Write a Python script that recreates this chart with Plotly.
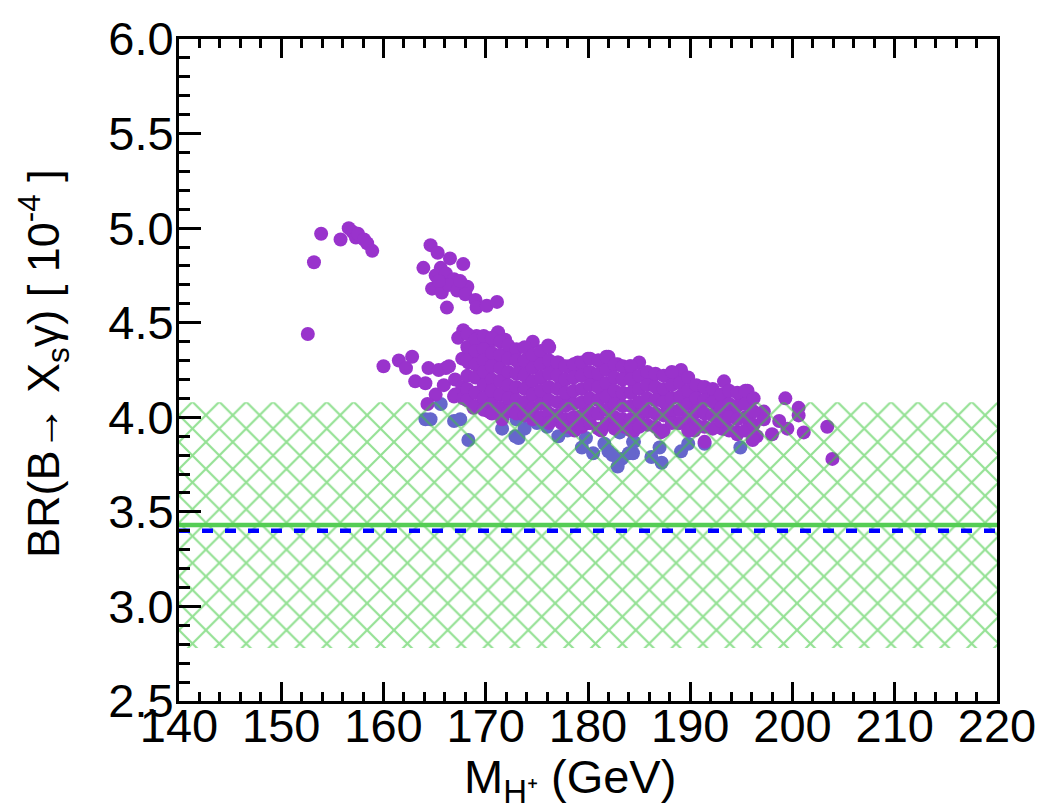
import plotly.graph_objects as go

# Charged Higgs mass scan: BR(B -> X_s gamma) in units of 1e-4 versus M_H+ (GeV)

# Isolated points at low mass
low_mass_points = [
    (152.6, 4.44), (153.2, 4.82), (153.9, 4.97), (155.8, 4.94), (156.6, 5.00),
    (157.0, 4.98), (157.3, 4.95), (157.5, 4.97), (158.1, 4.94), (158.4, 4.92),
    (158.9, 4.88),
]

# Upper cluster around 165-171 GeV
upper_cluster = [
    (164.6, 4.91), (165.3, 4.87), (163.9, 4.79), (166.5, 4.84), (167.8, 4.81),
    (165.6, 4.79), (165.1, 4.75), (166.1, 4.76), (166.9, 4.73), (164.75, 4.68),
    (165.7, 4.66), (166.4, 4.70), (167.2, 4.67), (168.2, 4.69), (168.0, 4.65),
    (169.0, 4.62), (169.1, 4.58), (170.1, 4.59), (171.1, 4.61), (166.2, 4.58),
    (167.5, 4.72), (165.4, 4.72),
]

# Sparse points on the left flank of the main band
left_flank = [
    (160.0, 4.27), (161.5, 4.30), (162.2, 4.26), (162.8, 4.32), (163.1, 4.19),
    (164.1, 4.18), (164.4, 4.26), (165.1, 4.12), (164.3, 4.07), (166.1, 4.26),
    (165.9, 4.17), (166.9, 4.11), (165.4, 4.25), (166.4, 4.27), (167.0, 4.20),
    (167.7, 4.16), (167.0, 4.12), (167.8, 4.10), (168.8, 4.05), (169.9, 4.10),
    (170.9, 4.12), (170.3, 4.03), (171.6, 3.99), (172.4, 4.05),
]

# Upper and right edge of the main band
band_edge = [
    (167.8, 4.46), (167.3, 4.42), (169.1, 4.43), (171.2, 4.45), (171.9, 4.41),
    (168.3, 4.37), (167.7, 4.31), (168.3, 4.29), (169.6, 4.32), (170.6, 4.33),
    (172.5, 4.35), (169.0, 4.35), (170.3, 4.39), (169.6, 4.40), (174.6, 4.40),
    (176.1, 4.38), (177.1, 4.29), (178.2, 4.27), (180.0, 4.31), (181.0, 4.30),
    (182.0, 4.32), (182.9, 4.28), (184.1, 4.27), (179.0, 4.29), (185.0, 4.29),
    (189.1, 4.25), (187.9, 4.22), (193.3, 4.19), (195.6, 4.14), (191.0, 4.16),
    (199.3, 4.10), (200.6, 4.05), (200.6, 4.01), (197.2, 4.03), (197.2, 3.99),
    (198.7, 3.98), (199.5, 3.94), (201.1, 3.92), (203.4, 3.95), (203.9, 3.78),
    (198.0, 3.91), (196.5, 3.90), (194.6, 3.91), (193.1, 3.94),
]

# Lower edge of the main band
band_floor = [
    (172.9, 4.05), (174.2, 4.04), (175.5, 3.99), (177.4, 3.97), (178.7, 3.93),
    (180.0, 3.97), (181.3, 3.93), (183.6, 3.95), (184.5, 3.93), (187.1, 3.92),
    (188.8, 3.97), (190.4, 3.93), (191.4, 3.87), (193.3, 3.94), (194.6, 3.92),
    (196.1, 3.88),
]

# Core of the main band: mass -> BR values
band_core = [
    (168.2, [4.44, 4.37, 4.30, 4.22, 4.15, 4.09]),
    (169.0, [4.41, 4.35, 4.28, 4.21, 4.13, 4.06]),
    (169.8, [4.43, 4.36, 4.30, 4.24, 4.17, 4.10, 4.04]),
    (170.6, [4.42, 4.34, 4.27, 4.20, 4.14, 4.07, 4.02]),
    (171.4, [4.40, 4.33, 4.26, 4.19, 4.12, 4.05]),
    (172.2, [4.38, 4.31, 4.24, 4.17, 4.10, 4.03]),
    (173.0, [4.36, 4.30, 4.23, 4.16, 4.09, 4.02]),
    (173.8, [4.37, 4.30, 4.22, 4.15, 4.08, 4.01]),
    (174.6, [4.33, 4.26, 4.19, 4.12, 4.05, 3.99]),
    (175.4, [4.35, 4.28, 4.21, 4.14, 4.07, 4.00]),
    (176.2, [4.37, 4.30, 4.23, 4.16, 4.09, 4.02, 3.97]),
    (177.0, [4.29, 4.22, 4.15, 4.08, 4.01]),
    (177.8, [4.27, 4.20, 4.13, 4.06, 3.99, 3.95]),
    (178.6, [4.28, 4.21, 4.14, 4.07, 4.00, 3.94]),
    (179.4, [4.29, 4.22, 4.15, 4.08, 4.01, 3.95]),
    (180.2, [4.31, 4.24, 4.17, 4.10, 4.03, 3.97]),
    (181.0, [4.30, 4.23, 4.16, 4.09, 4.02, 3.94]),
    (181.8, [4.32, 4.25, 4.18, 4.11, 4.04, 3.97]),
    (182.6, [4.28, 4.21, 4.14, 4.07, 4.00, 3.94]),
    (183.4, [4.27, 4.20, 4.13, 4.06, 3.99]),
    (184.2, [4.27, 4.20, 4.13, 4.06, 3.99, 3.93]),
    (185.0, [4.22, 4.15, 4.08, 4.01, 3.95]),
    (185.8, [4.24, 4.17, 4.10, 4.03, 3.96]),
    (186.6, [4.23, 4.16, 4.09, 4.02, 3.95]),
    (187.4, [4.22, 4.15, 4.08, 4.01, 3.93]),
    (188.2, [4.24, 4.17, 4.10, 4.03, 3.97]),
    (189.0, [4.18, 4.11, 4.04, 3.97]),
    (189.8, [4.21, 4.14, 4.07, 4.00, 3.93]),
    (190.6, [4.17, 4.10, 4.03, 3.96]),
    (191.4, [4.16, 4.09, 4.02, 3.95]),
    (192.2, [4.15, 4.08, 4.01, 3.94]),
    (193.0, [4.12, 4.05, 3.98]),
    (193.8, [4.14, 4.07, 4.00, 3.93]),
    (194.6, [4.13, 4.06, 3.99]),
    (195.4, [4.14, 4.07, 4.00, 3.93]),
    (196.2, [4.10, 4.03, 3.96]),
]

# Points between the core rows
band_fill = [
    (168.6, 4.33), (169.4, 4.25), (170.2, 4.20), (171.0, 4.30), (171.8, 4.22),
    (172.6, 4.13), (173.4, 4.27), (174.2, 4.18), (175.0, 4.31), (175.8, 4.11),
    (176.6, 4.26), (177.4, 4.18), (178.2, 4.10), (179.0, 4.25), (179.8, 4.05),
    (180.6, 4.20), (181.4, 4.13), (182.2, 4.28), (183.0, 4.10), (183.8, 4.23),
    (184.6, 4.16), (185.4, 4.05), (186.2, 4.20), (187.0, 4.12), (187.8, 4.05),
    (188.6, 4.20), (189.4, 4.09), (190.2, 4.13), (191.0, 4.06), (191.8, 4.12),
    (192.6, 4.03), (193.4, 4.09), (194.2, 4.03), (195.0, 4.10), (195.8, 3.97),
]

# Points falling below the main band (second colour)
low_br_points = [
    (164.1, 3.99), (164.6, 3.99), (165.6, 4.07), (166.9, 3.98), (167.5, 3.99),
    (168.3, 3.88), (171.6, 3.94), (172.9, 3.90), (173.0, 3.99), (173.2, 3.89),
    (173.8, 3.94), (175.0, 3.97), (177.1, 3.90), (178.0, 3.93), (179.4, 3.84),
    (179.8, 3.89), (180.5, 3.81), (181.6, 3.86), (182.0, 3.82), (183.1, 3.92),
    (183.3, 3.78), (182.9, 3.74), (184.4, 3.87), (184.4, 3.81), (182.4, 3.80),
    (184.0, 3.81), (184.5, 3.87), (186.2, 3.79), (187.0, 3.84), (187.2, 3.76),
    (189.1, 3.82), (189.8, 3.86), (194.9, 3.84), (191.4, 3.86), (176.0, 3.95),
]

# Reference values
exp_central = 3.43
exp_band = (2.78, 4.08)
sm_value = 3.40
x_range = (140, 220)
y_range = (2.5, 6.0)

purple_pts = low_mass_points + upper_cluster + left_flank + band_edge + band_floor + band_fill
for m, brs in band_core:
    purple_pts += [(m, b) for b in brs]

marker_size = 14

fig = go.Figure()

fig.add_trace(go.Scatter(
    x=[p[0] for p in low_br_points], y=[p[1] for p in low_br_points],
    mode="markers", marker=dict(size=marker_size, color="rgb(102,102,204)", line=dict(width=0)),
    showlegend=False, hoverinfo="skip"))

fig.add_trace(go.Scatter(
    x=[p[0] for p in purple_pts], y=[p[1] for p in purple_pts],
    mode="markers", marker=dict(size=marker_size, color="rgb(153,51,204)", line=dict(width=0)),
    showlegend=False, hoverinfo="skip"))

# Hatched experimental band
fig.add_trace(go.Scatter(
    x=[x_range[0], x_range[1], x_range[1], x_range[0], x_range[0]],
    y=[exp_band[1], exp_band[1], exp_band[0], exp_band[0], exp_band[1]],
    mode="lines", line=dict(width=0, color="rgba(0,0,0,0)"),
    fill="toself", fillcolor="rgba(0,0,0,0)",
    fillpattern=dict(shape="x", fgcolor="rgb(60,200,60)", fgopacity=0.55,
                     bgcolor="rgba(0,0,0,0)", size=19, solidity=0.22),
    showlegend=False, hoverinfo="skip"))

fig.add_trace(go.Scatter(
    x=list(x_range), y=[exp_central, exp_central], mode="lines",
    line=dict(color="rgb(85,205,85)", width=4.5), showlegend=False, hoverinfo="skip"))

fig.add_trace(go.Scatter(
    x=list(x_range), y=[sm_value, sm_value], mode="lines",
    line=dict(color="rgb(0,0,255)", width=4.5, dash="11px,12px"),
    showlegend=False, hoverinfo="skip"))

font_family = "Liberation Sans, Arial, sans-serif"

fig.update_layout(
    width=1048, height=811,
    margin=dict(l=179, r=47, t=31, b=110),
    paper_bgcolor="white", plot_bgcolor="white",
    font=dict(family=font_family, color="black", size=47),
    xaxis=dict(
        range=list(x_range), dtick=10, tick0=140,
        ticks="inside", ticklen=19, tickwidth=2.5, tickcolor="black",
        minor=dict(dtick=2, ticklen=9, tickwidth=2.5, tickcolor="black", ticks="inside"),
        showline=True, linewidth=3, linecolor="black", mirror="ticks",
        showgrid=False, zeroline=False,
        tickfont=dict(size=47), ticklabelstandoff=-18,
    ),
    yaxis=dict(
        range=list(y_range), dtick=0.5, tick0=2.5, tickformat=".1f",
        ticks="inside", ticklen=22, tickwidth=2.5, tickcolor="black",
        minor=dict(dtick=0.1, ticklen=11, tickwidth=2.5, tickcolor="black", ticks="inside"),
        showline=True, linewidth=3, linecolor="black", mirror=True,
        showgrid=False, zeroline=False,
        tickfont=dict(size=47), ticklabelstandoff=-7,
    ),
    annotations=[
        dict(text="BR(B→ X<sub>s</sub>γ) [ 10<sup>-4</sup> ]",
             xref="paper", yref="paper", x=-0.1655, y=0.51,
             xanchor="center", yanchor="middle", textangle=-90,
             showarrow=False, font=dict(size=45)),
        dict(text="M<sub>H⁺</sub> (GeV)",
             xref="paper", yref="paper", x=0.478, y=-0.168,
             xanchor="center", yanchor="bottom",
             showarrow=False, font=dict(size=47)),
    ],
)

fig.write_html("out.html")
